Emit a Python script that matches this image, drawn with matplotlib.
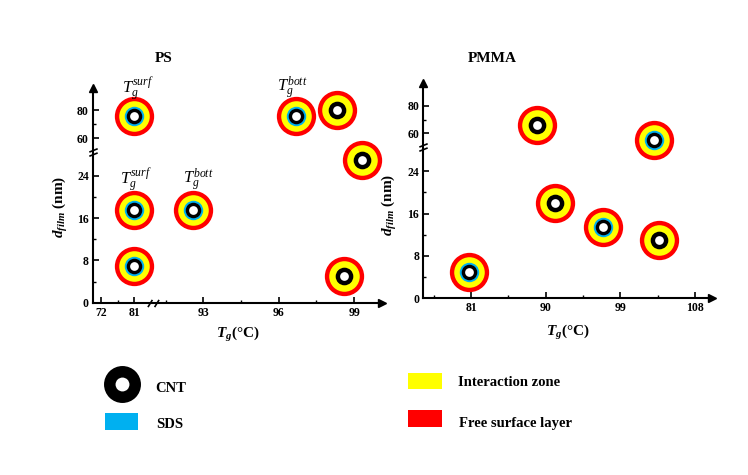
import numpy as np
import matplotlib
matplotlib.use("Agg")
import matplotlib.pyplot as plt
from matplotlib.path import Path
from matplotlib.patches import Rectangle

plt.rcParams['font.family'] = ['Liberation Serif', 'DejaVu Serif']
plt.rcParams['mathtext.fontset'] = 'custom'
plt.rcParams['mathtext.rm'] = 'Liberation Serif'
plt.rcParams['mathtext.it'] = 'Liberation Serif:italic'
plt.rcParams['mathtext.bf'] = 'Liberation Serif:bold:italic'

# ---------------- data ----------------
ps_tg = [81.0, 96.7, 98.3, 99.3, 81.0, 92.6, 81.0, 98.6]
ps_d = [76.0, 76.0, 80.0, 27.0, 17.5, 17.5, 7.0, 5.0]
ps_sds = [1, 1, 0, 0, 1, 1, 1, 0]

pmma_tg = [80.8, 88.9, 91.1, 96.9, 103.1, 103.7]
pmma_d = [5.0, 66.0, 18.0, 13.5, 55.0, 11.0]
pmma_sds = [1, 0, 0, 1, 1, 0]

ps_xticks = [72, 81, 93, 96, 99]
ps_xminor = [76.5, 91.5, 94.5, 97.5]
pmma_xticks = [81, 90, 99, 108]
pmma_xminor = [76.5, 85.5, 94.5, 103.5]
yticks = [0, 8, 16, 24, 60, 80]
yminor = [4, 12, 20, 70]

annot_text = [r'$T_g^{surf}$', r'$T_g^{bott}$', r'$T_g^{surf}$', r'$T_g^{bott}$']
annot_x = [81.0, 96.7, 81.0, 92.6]
annot_y = [76.0, 76.0, 17.5, 17.5]

legend_labels = ['CNT', 'SDS', 'Interaction zone', 'Free surface layer']

RED = '#FF0000'
YELLOW = '#FFFF00'
CYAN = '#00B0F0'

# ---------------- broken scales ----------------
def piecewise(xp, up):
    xp = np.asarray(xp, float)
    up = np.asarray(up, float)
    def fwd(v):
        return np.interp(np.asarray(v, float), xp, up)
    def inv(u):
        return np.interp(np.asarray(u, float), up, xp)
    return fwd, inv

ps_x_fun = piecewise([-1000, 72, 81, 86, 91, 99, 1000],
                     [101 - 1072 * 3.667, 101, 134, 152, 153, 354, 354 + 901 * 25.125])
y_fun = piecewise([-1000, 0, 28, 50, 1000],
                  [-1000, 0, 28, 28.5, 28.5 + 950 * 0.2625])

# break markers
slash2 = Path([(-1.0, -0.65), (-0.2, 0.65), (0.2, -0.65), (1.0, 0.65)],
              [Path.MOVETO, Path.LINETO, Path.MOVETO, Path.LINETO])
ybrk = Path([(-1, -0.9), (1, -0.1), (-1, 0.1), (1, 0.9)],
            [Path.MOVETO, Path.LINETO, Path.MOVETO, Path.LINETO])

W, H = 748, 475
fig = plt.figure(figsize=(W / 100, H / 100), dpi=100)

def px_axes(l, r, b, t):
    return fig.add_axes([l / W, 1 - b / H, (r - l) / W, (b - t) / H])

ax1 = px_axes(93, 382, 302.7, 88)
ax2 = px_axes(423.3, 711.7, 298.3, 83.3)


def draw_rings(ax, xs, ys, sds):
    xs = np.asarray(xs, float)
    ys = np.asarray(ys, float)
    sds = np.asarray(sds, bool)
    kw = dict(ls='none', marker='o', mew=0, clip_on=False)
    ax.plot(xs, ys, ms=28.3, color=RED, zorder=3, **kw)
    ax.plot(xs, ys, ms=22, color=YELLOW, zorder=4, **kw)
    ax.plot(xs[sds], ys[sds], ms=14, color=CYAN, zorder=5, **kw)
    ax.plot(xs[sds], ys[sds], ms=11.2, color='black', zorder=6, **kw)
    ax.plot(xs[~sds], ys[~sds], ms=12.7, color='black', zorder=6, **kw)
    ax.plot(xs, ys, ms=6.3, color='white', zorder=7, **kw)


def style_axes(ax, xticks, xminor):
    for s in ['top', 'right']:
        ax.spines[s].set_visible(False)
    for s in ['left', 'bottom']:
        ax.spines[s].set_linewidth(1.5)
    ax.set_xticks(xticks)
    ax.set_xticks(xminor, minor=True)
    ax.set_yticks(yticks)
    ax.set_yticks(yminor, minor=True)
    ax.tick_params(which='major', direction='in', length=4, width=1.2,
                   labelsize=8.5, pad=3)
    ax.tick_params(which='minor', direction='in', length=2.5, width=1.0)
    for lab in ax.get_xticklabels() + ax.get_yticklabels():
        lab.set_fontweight('bold')
    # arrows
    ax.plot(1, 0, '>', transform=ax.transAxes, clip_on=False, ms=6, color='k')
    ax.plot(0, 1, '^', transform=ax.transAxes, clip_on=False, ms=6, color='k')


# ----- PS panel -----
ax1.set_xscale('function', functions=ps_x_fun)
ax1.set_yscale('function', functions=y_fun)
ax1.set_xlim(69.82, 100.11)
ax1.set_ylim(0, 96.1)
style_axes(ax1, ps_xticks, ps_xminor)
draw_rings(ax1, ps_tg, ps_d, ps_sds)
ax1.plot([88.5], [0], marker=slash2, ms=8, mfc='none', mec='k', mew=1.2,
         clip_on=False, zorder=8)
ax1.plot([69.82], [50], marker=ybrk, ms=6, mfc='none', mec='k', mew=1.2,
         clip_on=False, zorder=8)

offsets = [(3, 20), (-3, 20), (1.5, 22), (3.5, 22)]
for t, x, y, off in zip(annot_text, annot_x, annot_y, offsets):
    ax1.annotate(t, (x, y), xytext=off, textcoords='offset points',
                 ha='center', va='center', fontsize=12, annotation_clip=False)

# ----- PMMA panel -----
ax2.set_yscale('function', functions=y_fun)
ax2.set_xlim(75.25, 110.0)
ax2.set_ylim(0, 96.1)
style_axes(ax2, pmma_xticks, pmma_xminor)
draw_rings(ax2, pmma_tg, pmma_d, pmma_sds)
ax2.plot([75.25], [50], marker=ybrk, ms=6, mfc='none', mec='k', mew=1.2,
         clip_on=False, zorder=8)

# ----- titles and labels -----
def ftext(x, y, s, **kw):
    fig.text(x / W, 1 - y / H, s, **kw)

ftext(163.5, 58, 'PS', ha='center', va='center', fontsize=11, fontweight='bold')
ftext(492.5, 58, 'PMMA', ha='center', va='center', fontsize=11, fontweight='bold')
xl = r'$\mathbf{T}_{\mathbf{g}}$(°C)'
yl = r'$\mathbf{d}_{\mathbf{film}}$ (nm)'
ftext(237.5, 334, xl, ha='center', va='center', fontsize=11, fontweight='bold')
ftext(567.5, 332, xl, ha='center', va='center', fontsize=11, fontweight='bold')
ftext(60, 207, yl, ha='center', va='center', rotation=90, fontsize=11, fontweight='bold')
ftext(389.5, 205, yl, ha='center', va='center', rotation=90, fontsize=11, fontweight='bold')

# ----- legend -----
lax = fig.add_axes([0, 0, 1, 1], zorder=-1)
lax.set_xlim(0, W)
lax.set_ylim(H, 0)
lax.axis('off')
lax.plot([121.7], [384], 'o', ms=26.6, color='black', mew=0)
lax.plot([121.7], [384], 'o', ms=10, color='white', mew=0)
lax.add_patch(Rectangle((105, 412.7), 33.3, 17.3, color=CYAN, lw=0))
lax.add_patch(Rectangle((408.3, 372.7), 33.4, 16.6, color=YELLOW, lw=0))
lax.add_patch(Rectangle((408.3, 410), 33.4, 16.7, color=RED, lw=0))
leg_pos = [(155, 391.5), (156, 428), (458.3, 386.5), (459.3, 426.5)]
for lab, (x, y) in zip(legend_labels, leg_pos):
    ftext(x, y, lab, ha='left', va='baseline', fontsize=10.5, fontweight='bold')

fig.savefig('out.png', dpi=100)
